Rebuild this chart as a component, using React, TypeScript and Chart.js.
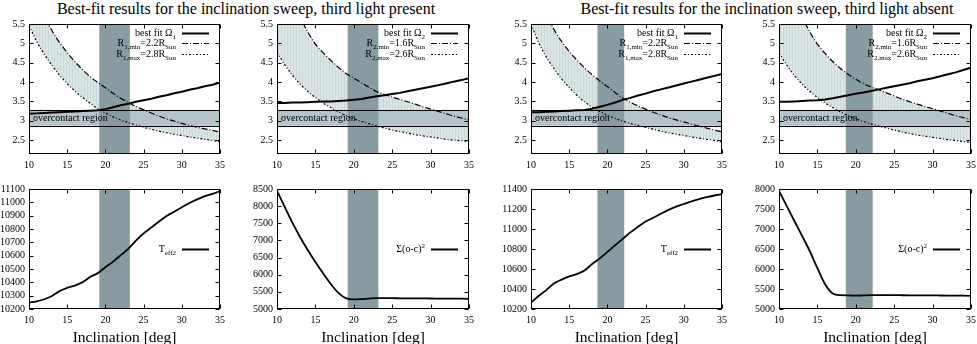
import React, { useEffect, useRef } from "react";
import { Chart, registerables } from "chart.js";

Chart.register(...registerables);

const FONT = '"Liberation Serif", "DejaVu Serif", serif';

// ---------------- data ----------------
const inclination = [10, 11, 12, 13, 14, 15, 16, 17, 18, 19, 20, 21, 22, 23, 24, 25, 26, 27, 28, 29, 30, 31, 32, 33, 34, 35];
const xTicks = [10, 15, 20, 25, 30, 35];

const omegaRange = [2.14, 5.5];
const omegaTicks = [2.5, 3, 3.5, 4, 4.5, 5, 5.5];
const overcontactRange = [2.87, 3.28];
const bandPresent = [19.2, 23.2];
const bandAbsent = [18.7, 22.2];

// third light present
const presentFitOmega1 = [3.18, 3.19, 3.2, 3.21, 3.22, 3.23, 3.24, 3.25, 3.26, 3.27, 3.3, 3.35, 3.4, 3.44, 3.49, 3.53, 3.57, 3.62, 3.66, 3.71, 3.75, 3.8, 3.84, 3.89, 3.93, 3.98];
const presentR1min = [6.7, 6.2, 5.72, 5.33, 5.02, 4.76, 4.53, 4.32, 4.14, 3.99, 3.85, 3.71, 3.58, 3.47, 3.37, 3.28, 3.2, 3.12, 3.05, 2.99, 2.93, 2.88, 2.83, 2.79, 2.75, 2.71];
const presentR1max = [5.46, 5.05, 4.72, 4.43, 4.18, 3.96, 3.77, 3.6, 3.45, 3.31, 3.2, 3.1, 3.02, 2.95, 2.89, 2.83, 2.78, 2.73, 2.69, 2.65, 2.62, 2.58, 2.55, 2.52, 2.49, 2.46];
const presentFitOmega2 = [3.46, 3.46, 3.47, 3.47, 3.48, 3.49, 3.5, 3.5, 3.51, 3.52, 3.54, 3.56, 3.6, 3.63, 3.66, 3.69, 3.72, 3.76, 3.8, 3.84, 3.88, 3.92, 3.96, 4.01, 4.05, 4.1];
const presentR2min = [7.1, 6.6, 6.1, 5.68, 5.3, 4.98, 4.76, 4.56, 4.38, 4.22, 4.1, 3.98, 3.86, 3.75, 3.68, 3.61, 3.55, 3.49, 3.43, 3.36, 3.3, 3.24, 3.18, 3.12, 3.07, 3.02];
const presentR2max = [4.77, 4.45, 4.18, 3.95, 3.76, 3.6, 3.46, 3.34, 3.23, 3.13, 3.05, 2.98, 2.92, 2.86, 2.81, 2.76, 2.72, 2.68, 2.64, 2.61, 2.58, 2.55, 2.52, 2.5, 2.48, 2.46];
const presentTeff2 = [10249, 10258, 10273, 10298, 10334, 10359, 10376, 10400, 10440, 10469, 10513, 10555, 10603, 10652, 10713, 10767, 10811, 10855, 10897, 10929, 10963, 10995, 11022, 11046, 11063, 11085];
const presentChi2 = [8450, 7980, 7520, 7100, 6720, 6370, 6040, 5730, 5470, 5310, 5280, 5290, 5305, 5315, 5315, 5315, 5312, 5310, 5310, 5308, 5306, 5305, 5304, 5302, 5300, 5298];

// third light absent
const absentFitOmega1 = [3.22, 3.22, 3.23, 3.24, 3.25, 3.26, 3.27, 3.28, 3.31, 3.36, 3.41, 3.47, 3.54, 3.59, 3.65, 3.7, 3.76, 3.81, 3.86, 3.91, 3.96, 4.01, 4.06, 4.11, 4.16, 4.21];
const absentR1min = [6.7, 6.2, 5.74, 5.36, 5.05, 4.79, 4.57, 4.37, 4.19, 4.03, 3.88, 3.73, 3.59, 3.48, 3.38, 3.3, 3.22, 3.15, 3.08, 3.02, 2.97, 2.91, 2.86, 2.81, 2.76, 2.71];
const absentR1max = [5.5, 5.02, 4.65, 4.35, 4.08, 3.86, 3.66, 3.49, 3.35, 3.24, 3.14, 3.06, 2.99, 2.93, 2.88, 2.83, 2.78, 2.73, 2.69, 2.65, 2.62, 2.58, 2.55, 2.52, 2.49, 2.45];
const absentFitOmega2 = [3.49, 3.49, 3.5, 3.51, 3.52, 3.53, 3.55, 3.58, 3.62, 3.66, 3.7, 3.73, 3.77, 3.81, 3.85, 3.89, 3.93, 3.97, 4.02, 4.06, 4.1, 4.15, 4.2, 4.25, 4.31, 4.37];
const absentR2min = [7.1, 6.6, 6.1, 5.68, 5.3, 4.98, 4.74, 4.53, 4.35, 4.2, 4.07, 3.96, 3.87, 3.8, 3.72, 3.64, 3.56, 3.49, 3.43, 3.37, 3.31, 3.25, 3.19, 3.13, 3.08, 3.03];
const absentR2max = [4.75, 4.44, 4.17, 3.95, 3.76, 3.6, 3.46, 3.34, 3.23, 3.13, 3.05, 2.98, 2.92, 2.86, 2.81, 2.76, 2.71, 2.67, 2.63, 2.6, 2.57, 2.54, 2.51, 2.49, 2.46, 2.44];
const absentTeff2 = [10265, 10330, 10389, 10454, 10494, 10526, 10549, 10585, 10650, 10706, 10771, 10836, 10901, 10966, 11022, 11074, 11113, 11152, 11191, 11224, 11250, 11276, 11299, 11318, 11335, 11348];
const absentChi2 = [7950, 7580, 7200, 6830, 6450, 6020, 5620, 5390, 5345, 5340, 5335, 5340, 5345, 5345, 5345, 5345, 5344, 5343, 5342, 5341, 5340, 5338, 5336, 5334, 5332, 5330];

const teffPresentTicks = [10200, 10300, 10400, 10500, 10600, 10700, 10800, 10900, 11000, 11100];
const chiPresentTicks = [5000, 5500, 6000, 6500, 7000, 7500, 8000, 8500];
const teffAbsentTicks = [10200, 10400, 10600, 10800, 11000, 11200, 11400];
const chiAbsentTicks = [5000, 5500, 6000, 6500, 7000, 7500, 8000];

const titles = [
  "Best-fit results for the inclination sweep, third light present",
  "Best-fit results for the inclination sweep, third light absent",
];
const xTitle = "Inclination [deg]";

// ---------------- styles ----------------
const VBAND = "#879ba0";
const HBAND = "#b4c4c8";
const HATCH_A = "#dae5e6";
const HATCH_B = "#cad8da";
const DASH_MIN = [6, 2, 1, 2];
const DASH_MAX = [2, 2, 1, 2];

const PAD_L = 40;
const PAD_R = 10;
const PAD_T = 8;
const PAD_B = 22;

const COLS = [
  { left: 29, width: 191 },
  { left: 277, width: 192 },
  { left: 531, width: 191 },
  { left: 779, width: 192 },
];
const TOP_ROW = { top: 22, height: 132 };
const BOT_ROW = { top: 187, height: 122 };

type Seg = { t: string; k?: "sub" | "sup" };
type LegendItem = { label: Seg[]; dash: number[]; width: number };
type Deco = {
  vband: number[];
  hband?: number[];
  hbandLabel?: string;
  legend: LegendItem[];
  legendMode: "top" | "center";
};

function drawRich(ctx: CanvasRenderingContext2D, segs: Seg[], xRight: number, yMid: number, size: number) {
  const small = Math.round(size * 0.72);
  const widths = segs.map((s) => {
    ctx.font = `${s.k ? small : size}px ${FONT}`;
    return ctx.measureText(s.t).width;
  });
  const total = widths.reduce((a, b) => a + b, 0);
  let x = xRight - total;
  ctx.textAlign = "left";
  ctx.textBaseline = "alphabetic";
  const base = yMid + size * 0.33;
  segs.forEach((s, i) => {
    ctx.font = `${s.k ? small : size}px ${FONT}`;
    const dy = s.k === "sub" ? size * 0.28 : s.k === "sup" ? -size * 0.42 : 0;
    ctx.fillText(s.t, x, base + dy);
    x += widths[i];
  });
}

function makeDecor(cfg: Deco) {
  return {
    id: "decor",
    beforeDatasetsDraw(chart: any) {
      const { ctx, chartArea: a } = chart;
      const xs = chart.scales.x;
      const ys = chart.scales.y;
      ctx.save();
      ctx.beginPath();
      ctx.rect(a.left, a.top, a.right - a.left, a.bottom - a.top);
      ctx.clip();
      let hy0 = 0;
      let hy1 = 0;
      if (cfg.hband) {
        hy0 = ys.getPixelForValue(cfg.hband[0]);
        hy1 = ys.getPixelForValue(cfg.hband[1]);
        ctx.fillStyle = HBAND;
        ctx.fillRect(a.left, hy1, a.right - a.left, hy0 - hy1);
      }
      const vx0 = xs.getPixelForValue(cfg.vband[0]);
      const vx1 = xs.getPixelForValue(cfg.vband[1]);
      ctx.fillStyle = VBAND;
      ctx.fillRect(vx0, a.top, vx1 - vx0, a.bottom - a.top);
      if (cfg.hband) {
        ctx.strokeStyle = "#000";
        ctx.lineWidth = 1;
        ctx.beginPath();
        ctx.moveTo(a.left, Math.round(hy0) + 0.5);
        ctx.lineTo(a.right, Math.round(hy0) + 0.5);
        ctx.moveTo(a.left, Math.round(hy1) + 0.5);
        ctx.lineTo(a.right, Math.round(hy1) + 0.5);
        ctx.stroke();
        if (cfg.hbandLabel) {
          ctx.fillStyle = "#000";
          ctx.font = `10px ${FONT}`;
          ctx.textAlign = "left";
          ctx.textBaseline = "middle";
          ctx.fillText(cfg.hbandLabel, a.left + 4, (hy0 + hy1) / 2 + 0.5);
        }
      }
      ctx.restore();
    },
    afterDraw(chart: any) {
      const { ctx, chartArea: a } = chart;
      const xs = chart.scales.x;
      const ys = chart.scales.y;
      ctx.save();
      ctx.strokeStyle = "#000";
      ctx.lineWidth = 1;
      ctx.setLineDash([]);
      const L = Math.round(a.left) + 0.5;
      const R = Math.round(a.right) - 0.5;
      const T = Math.round(a.top) + 0.5;
      const B = Math.round(a.bottom) - 0.5;
      ctx.strokeRect(L, T, R - L, B - T);
      ctx.beginPath();
      const tl = 4;
      xs.ticks.forEach((t: any) => {
        const px = Math.round(xs.getPixelForValue(t.value)) + 0.5;
        ctx.moveTo(px, B);
        ctx.lineTo(px, B - tl);
        ctx.moveTo(px, T);
        ctx.lineTo(px, T + tl);
      });
      ys.ticks.forEach((t: any) => {
        const py = Math.round(ys.getPixelForValue(t.value)) + 0.5;
        ctx.moveTo(L, py);
        ctx.lineTo(L + tl, py);
        ctx.moveTo(R, py);
        ctx.lineTo(R - tl, py);
      });
      ctx.stroke();
      // legend
      ctx.fillStyle = "#000";
      const n = cfg.legend.length;
      cfg.legend.forEach((item, i) => {
        const y =
          cfg.legendMode === "top"
            ? a.top + 8.5 + i * 10.5
            : (a.top + a.bottom) / 2 + (i - (n - 1) / 2) * 10.5;
        drawRich(ctx, item.label, a.right - 44, y, 10);
        ctx.beginPath();
        ctx.setLineDash(item.dash);
        ctx.lineWidth = item.width;
        ctx.moveTo(a.right - 38, Math.round(y) + 0.5);
        ctx.lineTo(a.right - 11, Math.round(y) + 0.5);
        ctx.stroke();
      });
      ctx.restore();
    },
  };
}

function pts(xs: number[], ys: number[]) {
  return xs.map((x, i) => ({ x, y: ys[i] }));
}

type PanelProps = {
  col: number;
  row: { top: number; height: number };
  yRange: number[];
  yTicks: number[];
  build: (pattern: CanvasPattern | string) => any[];
  deco: Deco;
};

function Panel(p: PanelProps) {
  const ref = useRef<HTMLCanvasElement>(null);
  const c = COLS[p.col];
  const W = c.width + PAD_L + PAD_R;
  const H = p.row.height + PAD_T + PAD_B;
  useEffect(() => {
    const canvas = ref.current!;
    const pc = document.createElement("canvas");
    pc.width = 3;
    pc.height = 1;
    const pctx = pc.getContext("2d")!;
    pctx.fillStyle = HATCH_A;
    pctx.fillRect(0, 0, 3, 1);
    pctx.fillStyle = HATCH_B;
    pctx.fillRect(2, 0, 1, 1);
    const pattern = canvas.getContext("2d")!.createPattern(pc, "repeat") || HATCH_A;
    const tickFont = { family: FONT, size: 10 };
    const chart = new Chart(canvas, {
      type: "line",
      data: { datasets: p.build(pattern) },
      options: {
        animation: false,
        responsive: false,
        devicePixelRatio: 1,
        layout: { padding: { left: 0, right: PAD_R, top: PAD_T, bottom: 0 } },
        plugins: {
          legend: { display: false },
          tooltip: { enabled: false },
          filler: { drawTime: "beforeDatasetsDraw" },
        },
        elements: { point: { radius: 0 } },
        scales: {
          x: {
            type: "linear",
            min: 10,
            max: 35,
            grid: { display: false, drawTicks: false },
            border: { display: false },
            ticks: { font: tickFont, color: "#000", padding: 5, autoSkip: false, maxRotation: 0, callback: (v: any) => String(v) },
            afterBuildTicks: (s: any) => {
              s.ticks = xTicks.map((v) => ({ value: v }));
            },
            afterFit: (s: any) => {
              s.height = PAD_B;
            },
          },
          y: {
            type: "linear",
            min: p.yRange[0],
            max: p.yRange[1],
            grid: { display: false, drawTicks: false },
            border: { display: false },
            ticks: { font: tickFont, color: "#000", padding: 4, autoSkip: false, callback: (v: any) => String(v) },
            afterBuildTicks: (s: any) => {
              s.ticks = p.yTicks.map((v) => ({ value: v }));
            },
            afterFit: (s: any) => {
              s.width = PAD_L;
            },
          },
        },
      } as any,
      plugins: [makeDecor(p.deco)],
    });
    return () => chart.destroy();
  }, []);
  return (
    <canvas
      ref={ref}
      width={W}
      height={H}
      style={{ position: "absolute", left: c.left - PAD_L, top: p.row.top - PAD_T, width: W, height: H }}
    />
  );
}

function topBuild(fit: number[], rmin: number[], rmax: number[]) {
  return (pattern: any) => [
    { data: pts(inclination, fit), borderColor: "#000", borderWidth: 2, fill: false, pointRadius: 0 },
    {
      data: pts(inclination, rmin),
      borderColor: "#000",
      borderWidth: 1.2,
      borderDash: DASH_MIN,
      fill: 2,
      backgroundColor: pattern,
      pointRadius: 0,
      cubicInterpolationMode: "monotone",
    },
    {
      data: pts(inclination, rmax),
      borderColor: "#000",
      borderWidth: 1.2,
      borderDash: DASH_MAX,
      fill: false,
      pointRadius: 0,
      cubicInterpolationMode: "monotone",
    },
  ];
}

function bottomBuild(vals: number[]) {
  return () => [
    {
      data: pts(inclination, vals),
      borderColor: "#000",
      borderWidth: 1.8,
      fill: false,
      pointRadius: 0,
      cubicInterpolationMode: "monotone",
    },
  ];
}

function topLegend(star: string, rmin: string, rmax: string): LegendItem[] {
  return [
    { label: [{ t: "best fit Ω" }, { t: star, k: "sub" }], dash: [], width: 2 },
    { label: [{ t: "R" }, { t: `${star},min`, k: "sub" }, { t: `=${rmin}R` }, { t: "Sun", k: "sub" }], dash: DASH_MIN, width: 1.2 },
    { label: [{ t: "R" }, { t: `${star},max`, k: "sub" }, { t: `=${rmax}R` }, { t: "Sun", k: "sub" }], dash: DASH_MAX, width: 1.2 },
  ];
}

const teffLegend: LegendItem[] = [{ label: [{ t: "T" }, { t: "eff2", k: "sub" }], dash: [], width: 2 }];
const chiLegend: LegendItem[] = [{ label: [{ t: "Σ(o-c)" }, { t: "2", k: "sup" }], dash: [], width: 2 }];

export default function App() {
  const label = (text: string, cx: number, cy: number, size: number) => (
    <div
      style={{
        position: "absolute",
        left: cx,
        top: cy,
        transform: "translate(-50%, -50%)",
        whiteSpace: "nowrap",
        fontFamily: FONT,
        fontSize: size,
        color: "#000",
        lineHeight: 1,
      }}
    >
      {text}
    </div>
  );
  return (
    <div style={{ position: "absolute", left: 0, top: 0, width: 977, height: 344, overflow: "hidden", background: "#fff" }}>
      {label(titles[0], 246, 9, 16)}
      {label(titles[1], 767, 9, 16)}
      <Panel col={0} row={TOP_ROW} yRange={omegaRange} yTicks={omegaTicks} build={topBuild(presentFitOmega1, presentR1min, presentR1max)}
        deco={{ vband: bandPresent, hband: overcontactRange, hbandLabel: "overcontact region", legend: topLegend("1", "2.2", "2.8"), legendMode: "top" }} />
      <Panel col={1} row={TOP_ROW} yRange={omegaRange} yTicks={omegaTicks} build={topBuild(presentFitOmega2, presentR2min, presentR2max)}
        deco={{ vband: bandPresent, hband: overcontactRange, hbandLabel: "overcontact region", legend: topLegend("2", "1.6", "2.6"), legendMode: "top" }} />
      <Panel col={2} row={TOP_ROW} yRange={omegaRange} yTicks={omegaTicks} build={topBuild(absentFitOmega1, absentR1min, absentR1max)}
        deco={{ vband: bandAbsent, hband: overcontactRange, hbandLabel: "overcontact region", legend: topLegend("1", "2.2", "2.8"), legendMode: "top" }} />
      <Panel col={3} row={TOP_ROW} yRange={omegaRange} yTicks={omegaTicks} build={topBuild(absentFitOmega2, absentR2min, absentR2max)}
        deco={{ vband: bandAbsent, hband: overcontactRange, hbandLabel: "overcontact region", legend: topLegend("2", "1.6", "2.6"), legendMode: "top" }} />
      <Panel col={0} row={BOT_ROW} yRange={[10200, 11100]} yTicks={teffPresentTicks} build={bottomBuild(presentTeff2)}
        deco={{ vband: bandPresent, legend: teffLegend, legendMode: "center" }} />
      <Panel col={1} row={BOT_ROW} yRange={[5000, 8500]} yTicks={chiPresentTicks} build={bottomBuild(presentChi2)}
        deco={{ vband: bandPresent, legend: chiLegend, legendMode: "center" }} />
      <Panel col={2} row={BOT_ROW} yRange={[10200, 11400]} yTicks={teffAbsentTicks} build={bottomBuild(absentTeff2)}
        deco={{ vband: bandAbsent, legend: teffLegend, legendMode: "center" }} />
      <Panel col={3} row={BOT_ROW} yRange={[5000, 8000]} yTicks={chiAbsentTicks} build={bottomBuild(absentChi2)}
        deco={{ vband: bandAbsent, legend: chiLegend, legendMode: "center" }} />
      {COLS.map((c, i) => (
        <React.Fragment key={i}>{label(xTitle, c.left + c.width / 2, 337, 15.5)}</React.Fragment>
      ))}
    </div>
  );
}
